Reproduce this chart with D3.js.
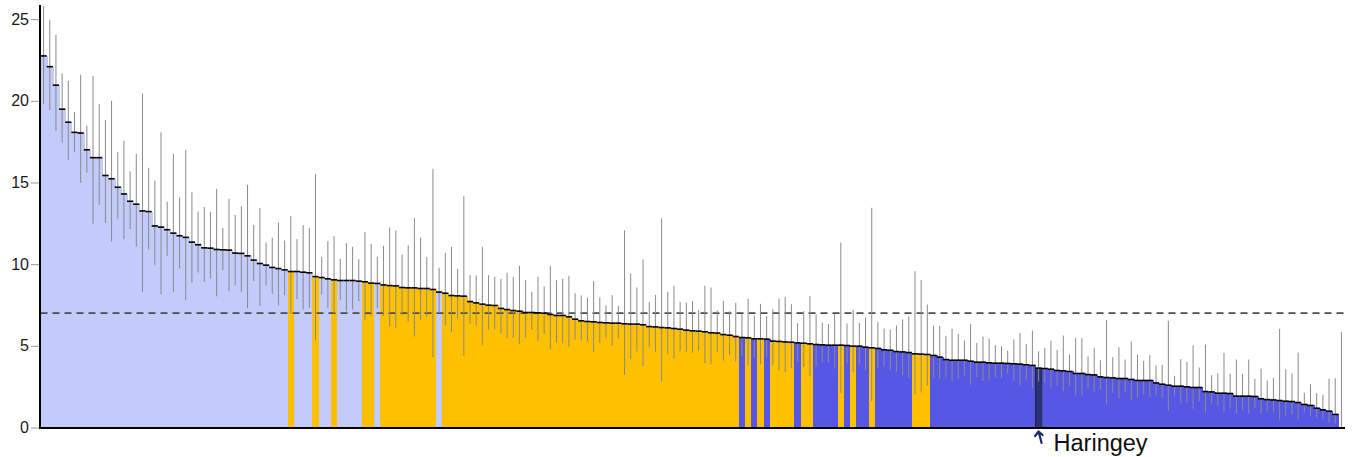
<!DOCTYPE html>
<html>
<head>
<meta charset="utf-8">
<script src="https://cdn.jsdelivr.net/npm/d3@7"></script>
<style>
  html, body { margin: 0; padding: 0; background: #fff; }
  svg { display: block; font-family: "Liberation Sans", Arial, sans-serif; }
</style>
</head>
<body>
<svg id="chart" width="1352" height="457"></svg>
<script>
// ---- data ----
const values = [
  22.75, 22.09, 20.96, 19.49, 18.69, 18.07, 18.03, 17.0, 16.52, 16.52,
  15.43, 15.23, 14.71, 14.3, 13.85, 13.67, 13.26, 13.22, 12.34, 12.27,
  12.11, 11.9, 11.74, 11.64, 11.35, 11.19, 11.0, 10.98, 10.9, 10.88,
  10.86, 10.68, 10.66, 10.51, 10.25, 10.04, 9.94, 9.8, 9.73, 9.65,
  9.55, 9.55, 9.51, 9.47, 9.24, 9.18, 9.1, 9.04, 9.0, 9.0,
  9.0, 8.96, 8.92, 8.84, 8.82, 8.73, 8.69, 8.67, 8.57, 8.55,
  8.55, 8.51, 8.51, 8.45, 8.29, 8.22, 8.08, 8.06, 8.04, 7.71,
  7.63, 7.55, 7.49, 7.47, 7.29, 7.22, 7.16, 7.12, 7.04, 7.04,
  7.02, 7.0, 6.92, 6.86, 6.86, 6.78, 6.63, 6.53, 6.49, 6.47,
  6.43, 6.41, 6.39, 6.39, 6.35, 6.33, 6.33, 6.29, 6.18, 6.16,
  6.12, 6.1, 6.06, 6.02, 5.96, 5.92, 5.9, 5.86, 5.8, 5.78,
  5.69, 5.65, 5.57, 5.51, 5.49, 5.43, 5.43, 5.41, 5.29, 5.27,
  5.24, 5.22, 5.18, 5.16, 5.12, 5.08, 5.06, 5.04, 5.04, 5.04,
  5.02, 4.98, 4.98, 4.92, 4.88, 4.84, 4.76, 4.73, 4.65, 4.63,
  4.59, 4.51, 4.49, 4.47, 4.41, 4.31, 4.16, 4.12, 4.12, 4.12,
  4.06, 4.0, 4.0, 3.96, 3.94, 3.94, 3.92, 3.9, 3.88, 3.84,
  3.8, 3.63, 3.61, 3.57, 3.49, 3.47, 3.43, 3.31, 3.31, 3.24,
  3.22, 3.1, 3.06, 3.04, 3.0, 3.0, 2.94, 2.88, 2.88, 2.88,
  2.73, 2.65, 2.59, 2.53, 2.53, 2.49, 2.45, 2.45, 2.2, 2.18,
  2.1, 2.1, 2.08, 1.92, 1.92, 1.92, 1.9, 1.76, 1.71, 1.69,
  1.65, 1.61, 1.59, 1.53, 1.41, 1.35, 1.18, 1.08, 1.0, 0.8,
  0
];
const upper = [
  26.5, 24.96, 24.04, 21.68, 21.23, 19.32, 21.6, 18.48, 21.52, 19.8,
  18.83, 20.0, 16.86, 17.56, 15.68, 16.76, 20.45, 15.9, 15.12, 18.07,
  13.83, 16.76, 14.08, 17.0, 14.4, 13.22, 13.5, 13.2, 14.61, 12.21,
  14.0, 13.01, 13.55, 14.86, 12.4, 13.44, 11.33, 11.61, 12.55, 11.45,
  12.96, 11.53, 12.39, 12.2, 15.53, 10.45, 11.41, 11.71, 10.33, 11.29,
  11.06, 10.31, 11.96, 11.24, 10.45, 11.12, 12.24, 12.06, 10.59, 11.14,
  12.84, 11.63, 10.43, 15.84, 9.78, 10.69, 11.06, 9.71, 14.16, 9.33,
  9.31, 11.06, 9.33, 9.22, 9.1, 9.47, 9.22, 9.9, 9.04, 8.31,
  9.24, 8.63, 9.9, 9.02, 9.1, 9.29, 8.22, 8.08, 7.96, 8.96,
  7.96, 7.47, 8.1, 7.45, 12.06, 9.43, 8.57, 10.29, 7.69, 8.12,
  12.8, 8.31, 8.67, 7.69, 7.65, 7.73, 7.2, 8.67, 8.57, 7.16,
  7.76, 7.12, 7.63, 6.96, 7.88, 6.86, 7.57, 6.82, 7.24, 7.9,
  8.0, 7.55, 6.39, 7.12, 8.06, 6.92, 6.41, 6.33, 6.94, 11.33,
  6.37, 7.2, 6.39, 6.73, 13.45, 6.45, 6.06, 6.0, 6.24, 6.61,
  6.8, 9.57, 9.04, 7.53, 6.24, 6.22, 5.59, 6.04, 5.73, 5.33,
  6.33, 5.18, 5.57, 5.45, 5.04, 4.98, 4.69, 5.39, 5.78, 5.1,
  5.94, 4.67, 4.86, 5.31, 4.76, 5.63, 4.47, 5.49, 5.47, 4.35,
  4.88, 4.12, 6.57, 4.31, 4.92, 4.16, 5.27, 4.47, 4.08, 4.43,
  3.8, 3.84, 6.53, 3.16, 4.18, 4.02, 5.02, 3.67, 5.08, 3.2,
  3.31, 4.57, 3.29, 4.16, 3.29, 4.16, 2.98, 3.61, 2.88, 3.04,
  6.04, 3.57, 3.31, 4.59, 2.12, 2.65, 2.1, 2.0, 2.98, 3.02,
  5.84
];
const lower = [
  19.8, 19.43, 18.16, 17.44, 16.37, 16.86, 14.98, 15.59, 12.48, 13.63,
  12.52, 11.39, 12.79, 11.52, 12.15, 11.07, 8.3, 10.9, 9.96, 8.14,
  10.51, 8.28, 9.73, 7.79, 8.87, 9.49, 8.91, 9.12, 8.03, 9.63,
  8.34, 8.71, 8.3, 7.3, 8.98, 7.44, 8.69, 8.18, 7.47, 8.1,
  6.96, 7.86, 7.22, 7.33, 5.35, 8.14, 7.31, 6.96, 7.8, 7.1,
  7.22, 7.73, 6.59, 6.84, 7.29, 6.82, 6.16, 6.1, 6.88, 6.47,
  5.57, 6.59, 6.78, 4.31, 7.02, 6.27, 5.84, 6.65, 4.37, 6.35,
  6.24, 5.06, 5.98, 6.02, 5.78, 5.47, 5.51, 5.12, 5.49, 6.0,
  5.29, 5.71, 4.8, 5.2, 5.16, 4.92, 5.39, 5.33, 5.27, 4.63,
  5.18, 5.51, 5.02, 5.47, 3.22, 4.18, 4.65, 3.76, 4.92, 4.63,
  2.82, 4.49, 4.2, 4.67, 4.63, 4.57, 4.71, 3.94, 3.88, 4.61,
  4.1, 4.45, 4.04, 4.37, 3.8, 4.27, 3.86, 4.27, 3.84, 3.49,
  3.39, 3.65, 4.06, 3.69, 3.16, 3.73, 3.98, 4.0, 3.61, 2.12,
  3.94, 3.39, 3.84, 3.53, 1.61, 3.63, 3.69, 3.53, 3.39, 3.2,
  3.04, 2.04, 2.14, 2.57, 3.08, 2.96, 3.06, 2.82, 2.96, 3.16,
  2.61, 3.08, 2.84, 2.88, 3.08, 3.04, 3.29, 2.84, 2.61, 2.88,
  2.41, 2.82, 2.73, 2.41, 2.57, 2.22, 2.57, 1.96, 1.96, 2.41,
  2.16, 2.31, 1.39, 2.12, 1.78, 2.16, 1.65, 1.82, 2.0, 1.84,
  1.96, 1.78, 1.0, 1.96, 1.49, 1.51, 1.14, 1.61, 0.9, 1.45,
  1.31, 0.94, 1.2, 0.84, 1.08, 0.84, 1.18, 0.84, 1.0, 0.98,
  0.43, 0.69, 0.76, 0.51, 0.92, 0.69, 0.61, 0.51, 0.29, 0.22,
  0
];
// L = significantly higher, O = similar, B = significantly lower, H = highlighted area
const groups = [
  "LLLLLLLLLL", "LLLLLLLLLL", "LLLLLLLLLL", "LLLLLLLLLL",
  "OLLLOLLOLL", "LLOOLOOOOO", "OOOOLOOOOO", "OOOOOOOOOO",
  "OOOOOOOOOO", "OOOOOOOOOO", "OOOOOOOOOO", "OOOBOBOBOO",
  "OOBOOBBBBO", "BOBBOBBBBB", "BOOOBBBBBB", "BBBBBBBBBB",
  "BHBBBBBBBB", "BBBBBBBBBB", "BBBBBBBBBB", "BBBBBBBBBB",
  "BBBBBBBBBB", "B"
].join("").split("");
const highlightName = "Haringey";
const averageValue = 7;
const yTicks = [0, 5, 10, 15, 20, 25];

// ---- chart ----
(function () {
  const colors = { L: "#c3cbfb", O: "#ffc000", B: "#5757e5", H: "#2b3273" };
  const data = values.map((v, i) => ({ i, v, hi: upper[i], lo: lower[i], g: groups[i] }));

  const svg = d3.select("#chart");
  const pL = 40.5, pR = 1344.5, pT = 6.1, pB = 427.5;

  const x = d3.scaleBand().domain(data.map(d => d.i)).range([pL, pR]).padding(0);
  const y = d3.scaleLinear().domain([0, 25.8]).range([pB, pT]).clamp(true);
  const bw = x.bandwidth();

  // bars (highlighted bar drawn last so its outline stays visible)
  const ordered = data.filter(d => d.g !== "H").concat(data.filter(d => d.g === "H"));
  svg.append("g").selectAll("rect").data(ordered).join("rect")
    .attr("x", d => x(d.i))
    .attr("width", d => d.g === "H" ? bw : bw + 1)
    .attr("y", d => y(d.v))
    .attr("height", d => y(0) - y(d.v))
    .attr("shape-rendering", d => d.g === "H" ? "auto" : "crispEdges")
    .attr("fill", d => colors[d.g])
    .attr("stroke", d => d.g === "H" ? "#1b2050" : "none")
    .attr("stroke-width", d => d.g === "H" ? 1 : 0);

  // average dashed line
  svg.append("line")
    .attr("x1", pL).attr("x2", pR)
    .attr("y1", y(averageValue)).attr("y2", y(averageValue))
    .attr("stroke", "#4d4d4d").attr("stroke-width", 1.6)
    .attr("stroke-dasharray", "7,5");

  // error bars
  svg.append("g").selectAll("line").data(data).join("line")
    .attr("x1", d => x(d.i) + bw / 2).attr("x2", d => x(d.i) + bw / 2)
    .attr("y1", d => y(d.hi)).attr("y2", d => y(d.lo))
    .attr("stroke", "#8a8a8a").attr("stroke-width", 1);

  // value ticks
  svg.append("g").selectAll("line").data(data.filter(d => d.v > 0)).join("line")
    .attr("x1", d => x(d.i)).attr("x2", d => x(d.i) + bw)
    .attr("y1", d => y(d.v)).attr("y2", d => y(d.v))
    .attr("stroke", "#000").attr("stroke-width", 1.6);

  // y axis
  const yAxis = svg.append("g").attr("transform", `translate(${pL - 1.5},0)`)
    .call(d3.axisLeft(y).tickValues(yTicks).tickSize(8).tickPadding(2).tickFormat(d3.format("d")));
  yAxis.select(".domain").remove();
  yAxis.selectAll(".tick line").attr("stroke", "#999");
  yAxis.selectAll(".tick text").attr("fill", "#1a1a1a")
    .style("font-size", "16px").style("font-family", "'Liberation Sans', Arial, sans-serif");

  // axis lines
  svg.append("line").attr("x1", pL - 0.5).attr("x2", pL - 0.5).attr("y1", 5).attr("y2", pB + 1.5)
    .attr("stroke", "#000").attr("stroke-width", 2);
  svg.append("line").attr("x1", pL - 1.5).attr("x2", pR + 0.5).attr("y1", pB + 0.5).attr("y2", pB + 0.5)
    .attr("stroke", "#000").attr("stroke-width", 2);

  // highlight annotation
  const h = data.find(d => d.g === "H");
  const hx = x(h.i) + bw / 2;
  svg.append("path")
    .attr("d", `M${hx + 3},${pB + 15.5} L${hx},${pB + 4} M${hx - 3.5},${pB + 8.5} L${hx},${pB + 4} L${hx + 4},${pB + 7.5}`)
    .attr("fill", "none").attr("stroke", "#1f2a6b").attr("stroke-width", 2.2)
    .attr("stroke-linecap", "round").attr("stroke-linejoin", "round");
  svg.append("text")
    .attr("x", hx + 15).attr("y", 451)
    .attr("fill", "#111")
    .style("font-size", "23.5px")
    .text(highlightName);
})();
</script>
</body>
</html>
